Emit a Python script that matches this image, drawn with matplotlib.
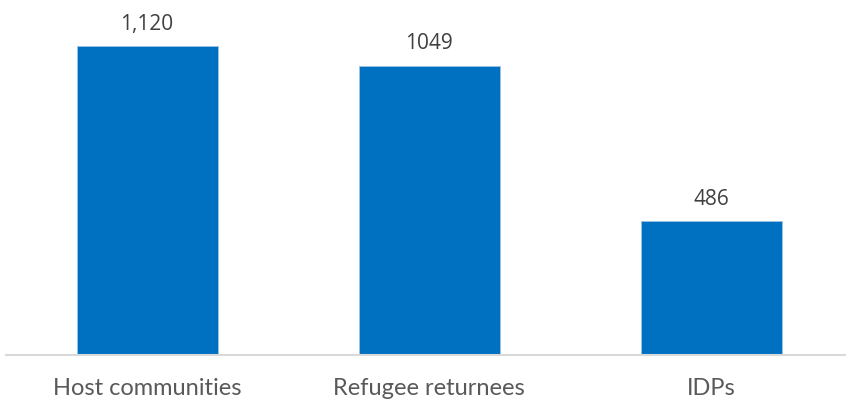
import matplotlib.pyplot as plt

# Data
categories = ['Host communities', 'Refugee returnees', 'IDPs']
values = [1120, 1049, 486]
value_labels = ['1,120', '1049', '486']

bar_color = '#0070C0'
text_color = '#404040'

fig = plt.figure(figsize=(8.46, 4.06), dpi=100)
ax = fig.add_axes([6 / 846, (406 - 356) / 406, 846 / 846, 356 / 406])

x = range(len(categories))
ax.bar(x, values, width=0.5, color=bar_color, edgecolor='#9DC3E6', linewidth=0.6)

for xi, v, lab in zip(x, values, value_labels):
    ax.annotate(lab, (xi, v), xytext=(0, 9), textcoords='offset points',
                ha='center', va='bottom', fontsize=15, color=text_color,
                family='Open Sans')

ax.set_xlim(-0.5, 2.5)
ax.set_ylim(0, 1292)
ax.set_xticks(list(x))
ax.set_xticklabels(categories, fontsize=17, color='#595959', family='Lato')
ax.tick_params(axis='x', length=0, pad=16)
ax.set_yticks([])

for side in ['top', 'right', 'left']:
    ax.spines[side].set_visible(False)
ax.spines['bottom'].set_color('#D9D9D9')
ax.spines['bottom'].set_linewidth(1.5)

fig.savefig('out.png', dpi=100)
